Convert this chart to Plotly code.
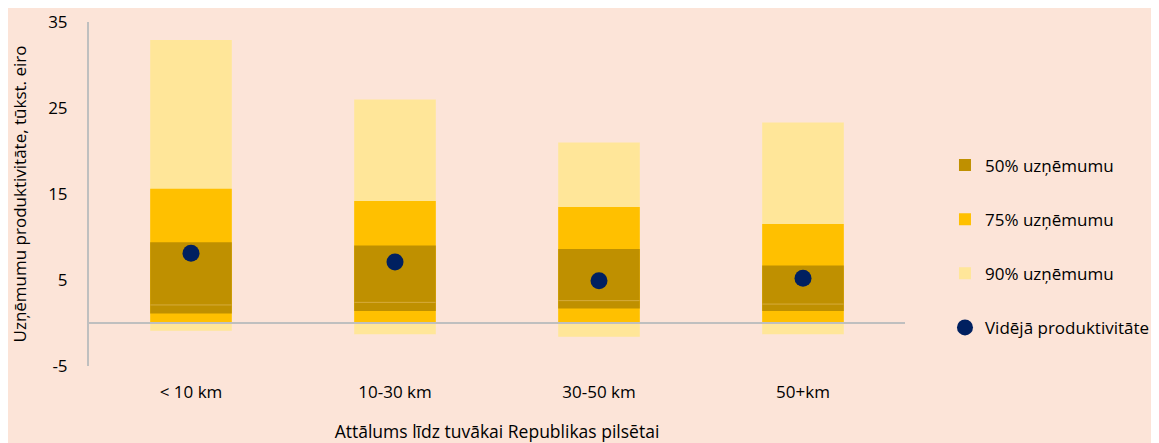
import plotly.graph_objects as go

# data
categories = ["< 10 km", "10-30 km", "30-50 km", "50+km"]

p90_low = [-0.9, -1.3, -1.6, -1.3]
p90_high = [32.9, 26.0, 21.0, 23.3]
p75_low = [0.1, 0.1, 0.1, 0.1]
p75_high = [15.6, 14.2, 13.5, 11.5]
p50_low = [1.1, 1.4, 1.7, 1.4]
p50_high = [9.4, 9.0, 8.6, 6.7]
median = [2.1, 2.4, 2.6, 2.2]
mean_prod = [8.1, 7.1, 4.9, 5.2]

y_ticks = [-5, 5, 15, 25, 35]
y_ticktext = ["-5", "5", "15", "25", "35"]

BG = "#FCE4D8"
FONT = "Open Sans"

fig = go.Figure()

def band(name, low, high, color, rank):
    fig.add_trace(go.Bar(
        name = name,
        x = categories,
        y = [h - l for l, h in zip(low, high)],
        base = low,
        width = 0.4,
        marker = {"color": color, "line": {"width": 0}},
        legendgroup = name,
        legendrank = rank,
    ))

band("90% uzņēmumu", p90_low, p90_high, "#FFE699", 3)
band("75% uzņēmumu", p75_low, p75_high, "#FFC000", 2)
band("50% uzņēmumu", p50_low, p50_high, "#BF9000", 1)

# faint median line inside the 50% band
fig.add_trace(go.Scatter(
    x = categories,
    y = median,
    mode = "markers",
    marker = {"symbol": "line-ew", "size": 58,
              "line": {"width": 1, "color": "rgba(230,190,100,0.6)"}},
    showlegend = False,
    hoverinfo = "skip",
))

fig.add_trace(go.Scatter(
    name = "Vidējā produktivitāte",
    x = categories,
    y = mean_prod,
    mode = "markers",
    marker = {"color": "#002060", "size": 17},
    legendgroup = "mean",
    legendrank = 4,
))

# zero line drawn over the bars
fig.add_shape(type = "line", xref = "paper", x0 = 0, x1 = 1, yref = "y", y0 = 0, y1 = 0,
              line = {"color": "#BFBFBF", "width": 2}, layer = "above")

# the page body adds an 8px offset, so margins are shifted accordingly
fig.update_layout(
    width = 1159,
    height = 443,
    barmode = "overlay",
    paper_bgcolor = BG,
    plot_bgcolor = BG,
    font = {"family": FONT, "size": 17, "color": "#000000"},
    margin = {"l": 81, "r": 262, "t": 14, "b": 85, "autoexpand": False},
    legend = {
        "x": 1.049, "y": 0.635, "xanchor": "left", "yanchor": "top",
        "tracegroupgap": 29, "bgcolor": "rgba(0,0,0,0)",
        "font": {"size": 17},
        "itemwidth": 30,
    },
    xaxis = {
        "automargin": False,
        "showgrid": False, "zeroline": False, "showline": False,
        "ticks": "", "ticklabelstandoff": 14,
        "title": {"text": "Attālums līdz tuvākai Republikas pilsētai", "standoff": 23,
                  "font": {"size": 17.5}},
    },
    yaxis = {
        "automargin": False,
        "range": [-5, 35], "tickvals": y_ticks, "ticktext": y_ticktext,
        "showgrid": False, "zeroline": False,
        "showline": True, "linecolor": "#BFBFBF", "linewidth": 2,
        "ticks": "", "ticklabelstandoff": 16,
        "title": {"text": "Uzņēmumu produktivitāte, tūkst. eiro", "standoff": 20,
                  "font": {"size": 17}},
    },
    showlegend = True,
)

fig.write_html("out.html")
